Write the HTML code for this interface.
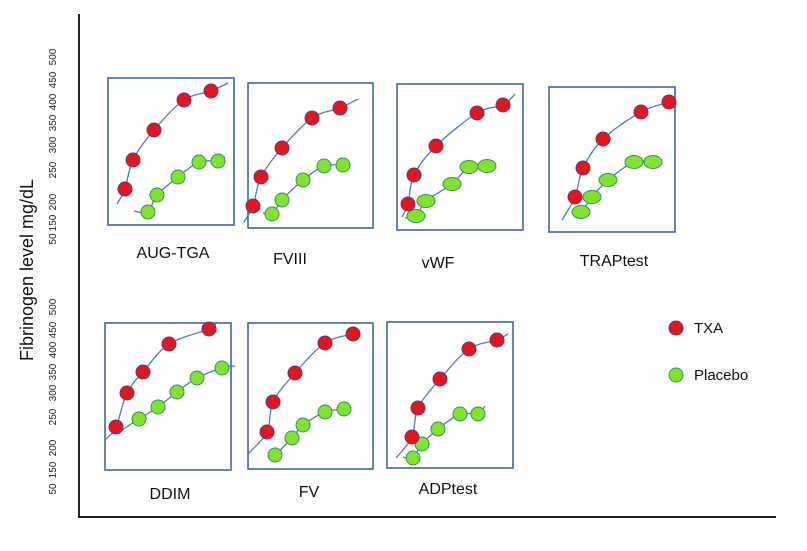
<!DOCTYPE html>
<html><head><meta charset="utf-8"><style>
html,body{margin:0;padding:0;background:#fff;}
svg{display:block;font-family:"Liberation Sans",sans-serif;}
</style></head><body>
<svg id="chart" width="807" height="551" viewBox="0 0 807 551" xmlns="http://www.w3.org/2000/svg">
<line x1="79" y1="14" x2="79" y2="518" stroke="#222" stroke-width="2"/>
<line x1="80" y1="517" x2="776" y2="517" stroke="#222" stroke-width="2"/>
<text transform="translate(33,270) rotate(-90)" text-anchor="middle" font-size="18" fill="#111">Fibrinogen level mg/dL</text>
<g>
<circle cx="676" cy="328" r="7" fill="#e8141c" stroke="#5a3a8a" stroke-width="1"/>
<text x="694" y="333" font-size="15" fill="#111">TXA</text>
<circle cx="676" cy="375" r="7" fill="#7fe52a" stroke="#3a8a6a" stroke-width="1"/>
<text x="694" y="380" font-size="15" fill="#111">Placebo</text>
</g>
</svg>
<script>
// tick labels for two y-axis groups
const tickLabels = ["500","450","400","350","300","250","200","150","50"];
const tickTopY = [57,80,102,123,145,170,202,223,239];
const tickBottomY = [307,330,350,372,393,417,448,470,489];

const panelNames = ["AUG-TGA","FVIII","vWF","TRAPtest","DDIM","FV","ADPtest"];
// TXA (red) values, panel-local units
const txaX = [[17,25,46,76,103],[5,13,34,64,92],[11,17,39,80,106],[26,34,54,92,120],[11,22,38,64,104],[19,25,47,77,105],[25,31,53,82,110]];
const txaY = [[36,65,95,125,134],[22,51,80,110,120],[26,55,84,117,125],[35,64,93,120,130],[43,77,98,126,141],[37,67,96,126,135],[31,60,89,119,128]];
// Placebo (green) values
const plaX = [[40,49,70,91,110],[24,34,55,76,95],[19,29,55,72,90],[32,43,59,85,104],[34,53,72,92,117],[27,44,55,77,96],[26,35,51,73,91]];
const plaY = [[13,30,48,63,64],[14,28,48,62,63],[14,29,46,63,64],[20,35,52,70,70],[51,63,78,92,102],[14,31,44,57,60],[10,24,39,54,54]];
// trend line ends
const txaStart = [[9,21],[-4,6],[5,13],[13,12],[1,31],[0,15],[9,10]];
const txaEnd = [[120,142],[110,129],[118,136],[123,131],[112,148],[112,137],[121,134]];
const plaStart = [[26,14],[15,15],[8,12],[26,18],[12,37],[22,12],[16,11]];
const plaEnd = [[117,68],[97,64],[92,65],[108,72],[130,104],[98,62],[98,62]];

// layout (not data)
const boxes = [[108,78,126,147],[248,83,125,145],[397,84,126,146],[549,87,126,145],[105,323,126,147],[248,323,125,146],[387,322,126,146]];
const labelPos = [[173,258],[290,264],[438,268],[614,266],[170,499],[309,497],[448,494]];
const wideGreen = [false,false,true,true,false,false,false];

const NS="http://www.w3.org/2000/svg";
const svg=document.getElementById('chart');
function mk(tag,attrs,parent){const e=document.createElementNS(NS,tag);for(const k in attrs)e.setAttribute(k,attrs[k]);(parent||svg).appendChild(e);return e;}

tickLabels.forEach((t,i)=>{
  [tickTopY,tickBottomY].forEach((arr,g)=>{
    const e=mk('text',{transform:`translate(56,${arr[i]}) rotate(-90)`,'text-anchor':'middle','font-size':'10',fill:'#222'});
    
    
    e.textContent=t;
  });
});

function path(pts){
  let d=`M${pts[0][0]},${pts[0][1]}`;
  for(let i=0;i<pts.length-1;i++){
    const p0=pts[Math.max(0,i-1)],p1=pts[i],p2=pts[i+1],p3=pts[Math.min(pts.length-1,i+2)];
    const c1=[p1[0]+(p2[0]-p0[0])/6,p1[1]+(p2[1]-p0[1])/6];
    const c2=[p2[0]-(p3[0]-p1[0])/6,p2[1]-(p3[1]-p1[1])/6];
    d+=` C${c1[0]},${c1[1]} ${c2[0]},${c2[1]} ${p2[0]},${p2[1]}`;
  }
  return d;
}

panelNames.forEach((name,p)=>{
  const [bx,by,bw,bh]=boxes[p];
  const sx=v=>bx+v, sy=v=>by+bh-v;
  const g=mk('g',{});
  
  
  const r=mk('rect',{x:bx,y:by,width:bw,height:bh,fill:'none',stroke:'#3a66aa','stroke-width':1.6},g);
  
  
  // trend lines
  const rp=[[sx(txaStart[p][0]),sy(txaStart[p][1])]].concat(txaX[p].map((x,i)=>[sx(x),sy(txaY[p][i])])).concat([[sx(txaEnd[p][0]),sy(txaEnd[p][1])]]);
  const gp=[[sx(plaStart[p][0]),sy(plaStart[p][1])]].concat(plaX[p].map((x,i)=>[sx(x),sy(plaY[p][i])])).concat([[sx(plaEnd[p][0]),sy(plaEnd[p][1])]]);
  const l1=mk('path',{d:path(rp),fill:'none',stroke:'#4a7cc0','stroke-width':1.3},g);
  
  
  const l2=mk('path',{d:path(gp),fill:'none',stroke:'#4a7cc0','stroke-width':1.3},g);
  
  
  plaX[p].forEach((x,i)=>{
    const c=mk('ellipse',{cx:sx(x),cy:sy(plaY[p][i]),rx:wideGreen[p]?9:7,ry:wideGreen[p]?6.5:7,fill:'#7fe52a',stroke:'#3a8a6a','stroke-width':1},g);
    
    
  });
  txaX[p].forEach((x,i)=>{
    const c=mk('circle',{cx:sx(x),cy:sy(txaY[p][i]),r:7,fill:'#e8141c',stroke:'#5a3a8a','stroke-width':1},g);
    
    
  });
  const t=mk('text',{x:labelPos[p][0],y:labelPos[p][1],'text-anchor':'middle','font-size':'16',fill:'#111'},g);
  
  
  t.textContent=name;
});
</script>
</body></html>
